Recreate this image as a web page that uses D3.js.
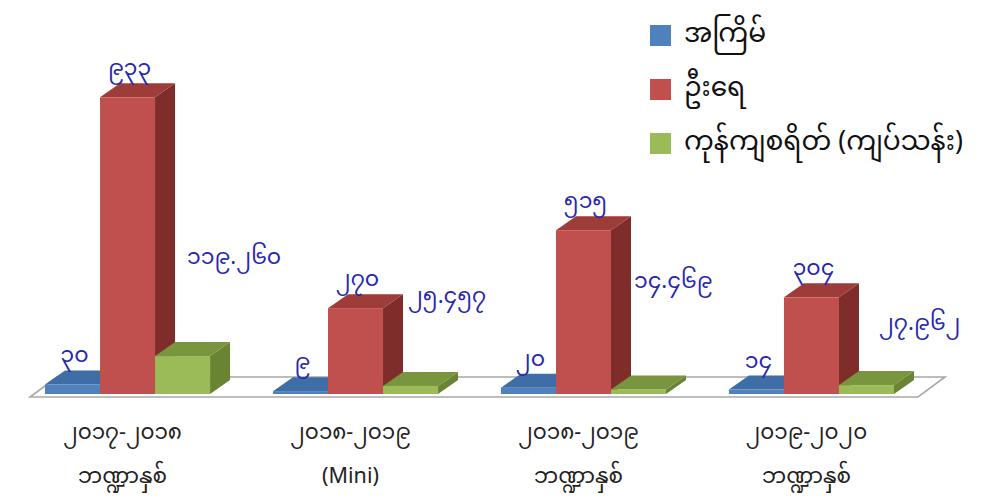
<!DOCTYPE html>
<html>
<head>
<meta charset="utf-8">
<script src="https://cdn.jsdelivr.net/npm/d3@7"></script>
<style>
  html, body { margin: 0; padding: 0; background: #ffffff; }
  svg { display: block; }
  text { font-family: "Noto Sans Myanmar", "Padauk", "Myanmar Text", "Noto Sans", sans-serif; }
</style>
</head>
<body>
<svg id="chart" width="984" height="502"></svg>
<script>
// ---- data ----
const categoriesLine1 = ["၂၀၁၇-၂၀၁၈", "၂၀၁၈-၂၀၁၉", "၂၀၁၈-၂၀၁၉", "၂၀၁၉-၂၀၂၀"];
const categoriesLine2 = ["ဘဏ္ဍာနှစ်", "(Mini)", "ဘဏ္ဍာနှစ်", "ဘဏ္ဍာနှစ်"];
const seriesNames = ["အကြိမ်", "ဦးရေ", "ကုန်ကျစရိတ် (ကျပ်သန်း)"];
const timesValues = [30, 9, 20, 14];
const peopleValues = [933, 270, 515, 304];
const costValues = [119.260, 25.457, 14.469, 27.962];
const timesLabels = ["၃၀", "၉", "၂၀", "၁၄"];
const peopleLabels = ["၉၃၃", "၂၇၀", "၅၁၅", "၃၀၄"];
const costLabels = ["၁၁၉.၂၆၀", "၂၅.၄၅၇", "၁၄.၄၆၉", "၂၇.၉၆၂"];

// ---- layout / style ----
const colors = [
  { front: "#4f81bd", top: "#3f6ea6", side: "#345b8c" },
  { front: "#c0504d", top: "#9e3c39", side: "#7e2d2b" },
  { front: "#9bbb59", top: "#79953d", side: "#6a8434" }
];
const depth = { dx: 20, dy: -14 };
const costLabelOffsets = [[32, -97], [25, -88], [23, -106], [40, -60]];
const labelColor = "#2626b0";

const svg = d3.select("#chart");
const idx = d3.range(categoriesLine1.length);

const x0 = d3.scaleBand().domain(idx).range([45, 894]).paddingInner(0.276).paddingOuter(0);
const x1 = d3.scaleBand().domain([0, 1, 2]).range([0, x0.bandwidth()]).padding(0);
const y = d3.scaleLinear().domain([0, 1000]).range([394, 76]);

const series = [timesValues, peopleValues, costValues];
const seriesLabels = [timesLabels, peopleLabels, costLabels];

// floor
const fl = { x0: 30, x1: 918, yF: 397, dx: 27, dy: -20 };
svg.append("path")
  .attr("d", `M${fl.x0},${fl.yF} L${fl.x1},${fl.yF} L${fl.x1 + fl.dx},${fl.yF + fl.dy} L${fl.x0 + fl.dx},${fl.yF + fl.dy} Z`)
  .attr("fill", "#ffffff").attr("stroke", "#a8a8a8").attr("stroke-width", 1.6);

// bars
const g = svg.append("g");
idx.forEach(i => {
  [0, 1, 2].forEach(s => {
    const v = series[s][i];
    const xl = x0(i) + x1(s), xr = xl + x1.bandwidth();
    const yb = y(0), yt = y(v);
    const c = colors[s];
    g.append("path")
      .attr("d", `M${xr},${yb} L${xr + depth.dx},${yb + depth.dy} L${xr + depth.dx},${yt + depth.dy} L${xr},${yt} Z`)
      .attr("fill", c.side);
    g.append("path")
      .attr("d", `M${xl},${yt} L${xr},${yt} L${xr + depth.dx},${yt + depth.dy} L${xl + depth.dx},${yt + depth.dy} Z`)
      .attr("fill", c.top);
    g.append("rect")
      .attr("x", xl).attr("y", yt).attr("width", xr - xl).attr("height", yb - yt)
      .attr("fill", c.front);
  });
});

// value labels
const lab = svg.append("g").attr("fill", labelColor).attr("font-size", 22);
idx.forEach(i => {
  [0, 1].forEach(s => {
    const xl = x0(i) + x1(s);
    lab.append("text")
      .attr("x", xl + x1.bandwidth() / 2 + 2)
      .attr("y", y(series[s][i]) + depth.dy - 8)
      .attr("text-anchor", "middle")
      .text(seriesLabels[s][i]);
  });
  const xg = x0(i) + x1(2);
  const off = costLabelOffsets[i];
  lab.append("text")
    .attr("x", xg + off[0])
    .attr("y", y(costValues[i]) + off[1])
    .attr("dominant-baseline", "central")
    .text(costLabels[i]);
});

// category labels
const cat = svg.append("g").attr("fill", "#222").attr("font-size", 21.5).attr("text-anchor", "middle");
idx.forEach(i => {
  const cx = x0(i) + x0.bandwidth() / 2 - 5;
  cat.append("text").attr("x", cx).attr("y", 439).text(categoriesLine1[i]);
  cat.append("text").attr("x", cx).attr("y", 483).text(categoriesLine2[i]);
});

// legend
const leg = svg.append("g").attr("transform", "translate(650,25)");
seriesNames.forEach((name, s) => {
  const row = leg.append("g").attr("transform", `translate(0,${s * 54})`);
  row.append("rect").attr("width", 21).attr("height", 21).attr("fill", colors[s].front);
  row.append("text").attr("x", 34).attr("y", 11).attr("dominant-baseline", "central")
    .attr("font-size", 26.5).attr("fill", "#111").text(name);
});
</script>
</body>
</html>
